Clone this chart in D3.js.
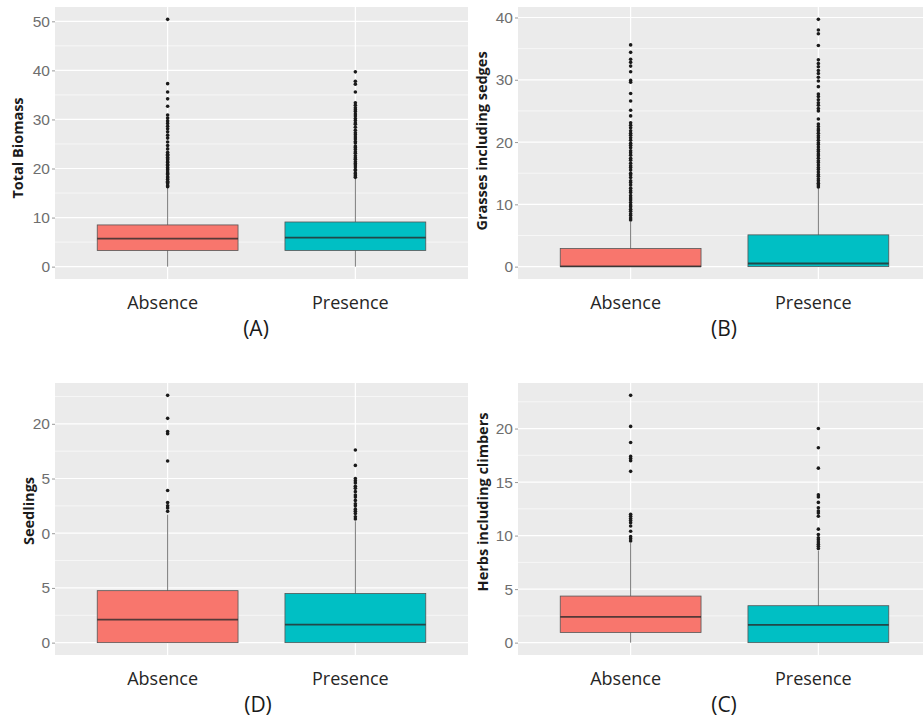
<!DOCTYPE html>
<html>
<head>
<meta charset="utf-8">
<script src="https://cdn.jsdelivr.net/npm/d3@7"></script>
<style>
  body { margin: 0; background: #fff; }
  svg { display: block; }
</style>
</head>
<body>
<div id="chart"></div>
<script>
var groups = ["Absence", "Presence"];
var groupColors = ["#F8766D", "#00BFC4"];

// box stats per group: [lower whisker, Q1, median, Q3, upper whisker]
var biomassBoxes = [[0, 3.3, 5.7, 8.5, 16.1], [0, 3.3, 5.9, 9.1, 18.0]];
var biomassOutAbsence = [16.3, 16.5, 16.9, 17.2, 17.4, 17.8, 18.1, 18.3, 18.8, 19.0, 19.3, 19.7, 19.9, 20.2, 20.6, 20.8, 21.2, 21.4, 21.8, 22.0, 22.3, 22.7, 22.9, 23.3, 24.0, 24.7, 25.4, 26.2, 26.8, 27.5, 28.1, 28.6, 29.2, 29.7, 30.3, 30.9, 32.7, 34.2, 35.6, 37.3, 50.4];
var biomassOutPresence = [18.2, 18.5, 18.9, 19.1, 19.6, 19.8, 20.3, 20.7, 21.0, 21.4, 21.9, 22.2, 22.6, 23.1, 23.4, 23.9, 24.3, 24.6, 25.2, 25.5, 26.0, 26.4, 26.9, 27.3, 27.8, 28.4, 29.0, 29.3, 29.8, 30.2, 30.7, 31.1, 31.6, 32.0, 32.4, 32.9, 33.4, 35.6, 37.2, 37.8, 39.7];
var biomassTicks = [0, 10, 20, 30, 40, 50];
var biomassTickLabels = ["0", "10", "20", "30", "40", "50"];

var grassBoxes = [[0, 0, 0.05, 2.9, 7.2], [0, 0, 0.5, 5.1, 12.6]];
var grassOutAbsence = [7.5, 7.8, 8.2, 8.5, 8.9, 9.2, 9.6, 9.9, 10.3, 10.7, 11.0, 11.4, 11.9, 12.2, 12.6, 13.1, 13.5, 13.8, 14.3, 14.7, 15.0, 15.5, 15.9, 16.2, 16.6, 17.1, 17.4, 17.9, 18.3, 18.6, 19.1, 19.5, 19.8, 20.3, 20.7, 21.1, 21.4, 21.8, 22.3, 22.7, 23.1, 24.2, 25.1, 26.6, 27.8, 29.6, 29.9, 31.3, 32.2, 32.8, 33.3, 34.4, 35.6];
var grassOutPresence = [12.8, 13.1, 13.4, 13.8, 14.1, 14.5, 14.8, 15.2, 15.6, 15.9, 16.3, 16.7, 17.0, 17.4, 17.8, 18.1, 18.5, 18.8, 19.2, 19.6, 19.9, 20.3, 20.7, 21.0, 21.4, 21.8, 22.1, 22.5, 22.9, 23.7, 25.0, 25.4, 25.9, 26.3, 26.8, 27.3, 27.7, 28.9, 29.8, 30.4, 31.0, 31.5, 32.1, 32.6, 33.2, 35.5, 37.4, 38.0, 39.7];
var grassTicks = [0, 10, 20, 30, 40];
var grassTickLabels = ["0", "10", "20", "30", "40"];

var seedBoxes = [[0, 0, 2.1, 4.75, 11.7], [0, 0, 1.65, 4.5, 11.1]];
var seedOutAbsence = [12.0, 12.3, 12.5, 12.8, 13.9, 16.6, 19.1, 19.3, 20.5, 22.6];
var seedOutPresence = [11.3, 11.5, 11.8, 12.0, 12.2, 12.5, 12.7, 13.0, 13.3, 13.5, 13.8, 14.1, 14.3, 14.6, 14.8, 15.0, 16.2, 17.6];
var seedTicks = [0, 5, 10, 15, 20];
var seedTickLabels = ["0", "5", "0", "5", "20"];

var herbBoxes = [[0, 0.95, 2.4, 4.35, 9.3], [0, 0, 1.65, 3.45, 8.6]];
var herbOutAbsence = [9.5, 9.7, 9.9, 10.4, 10.9, 11.2, 11.4, 11.6, 11.8, 12.0, 16.0, 17.0, 17.2, 17.4, 18.7, 20.2, 23.1];
var herbOutPresence = [8.8, 9.0, 9.2, 9.4, 9.6, 9.8, 10.1, 10.6, 11.8, 12.1, 12.3, 12.6, 13.1, 13.6, 13.8, 16.3, 18.2, 20.0];
var herbTicks = [0, 5, 10, 15, 20];
var herbTickLabels = ["0", "5", "10", "15", "20"];

var width = 923, height = 722;
var panelW = 413, panelH = 272;

// where each sub-figure sits on the page
var panels = [
  { tag: "(A)", title: "Total Biomass", boxes: biomassBoxes, outliers: [biomassOutAbsence, biomassOutPresence],
    ticks: biomassTicks, labels: biomassTickLabels, x: 55, y: 7, titleX: 17, titleY: 148, tagX: 256 },
  { tag: "(B)", title: "Grasses including sedges", boxes: grassBoxes, outliers: [grassOutAbsence, grassOutPresence],
    ticks: grassTicks, labels: grassTickLabels, x: 518, y: 7, titleX: 481, titleY: 141, tagX: 724 },
  { tag: "(D)", title: "Seedlings", boxes: seedBoxes, outliers: [seedOutAbsence, seedOutPresence],
    ticks: seedTicks, labels: seedTickLabels, x: 55, y: 383, titleX: 28, titleY: 511, tagX: 258 },
  { tag: "(C)", title: "Herbs including climbers", boxes: herbBoxes, outliers: [herbOutAbsence, herbOutPresence],
    ticks: herbTicks, labels: herbTickLabels, x: 518, y: 383, titleX: 482, titleY: 502, tagX: 724 }
];

var svg = d3.select("#chart").append("svg")
  .attr("width", width)
  .attr("height", height);

panels.forEach(function(p) {
  var g = svg.append("g").attr("transform", "translate(" + p.x + "," + p.y + ")");

  // y range with the usual 5% expansion
  var maxV = d3.max(p.outliers, function(o) { return d3.max(o); });
  var pad = maxV * 0.05;
  var y = d3.scaleLinear()
    .domain([-pad, maxV + pad])
    .range([panelH, 0]);

  var x = d3.scalePoint()
    .domain(groups)
    .range([0, panelW])
    .padding(0.6);
  var boxW = x.step() * 0.75;

  // grey panel
  g.append("rect")
    .attr("width", panelW)
    .attr("height", panelH)
    .attr("fill", "#ebebeb");

  // minor grid halfway between major ticks
  var step = p.ticks[1] - p.ticks[0];
  var minor = p.ticks.map(function(t) { return t + step / 2; })
    .filter(function(v) { return v < maxV + pad; });
  g.selectAll(".minor").data(minor).enter().append("line")
    .attr("x1", 0).attr("x2", panelW)
    .attr("y1", function(d) { return y(d); })
    .attr("y2", function(d) { return y(d); })
    .attr("stroke", "#fff")
    .attr("stroke-width", 0.6);

  g.selectAll(".major").data(p.ticks).enter().append("line")
    .attr("x1", 0).attr("x2", panelW)
    .attr("y1", function(d) { return y(d); })
    .attr("y2", function(d) { return y(d); })
    .attr("stroke", "#fff")
    .attr("stroke-width", 1.2);

  g.selectAll(".vgrid").data(groups).enter().append("line")
    .attr("x1", function(d) { return x(d); })
    .attr("x2", function(d) { return x(d); })
    .attr("y1", 0).attr("y2", panelH)
    .attr("stroke", "#fff")
    .attr("stroke-width", 1.2);

  // y axis
  var yAxis = g.append("g")
    .call(d3.axisLeft(y)
      .tickValues(p.ticks)
      .tickFormat(function(d, i) { return p.labels[i]; })
      .tickSize(3)
      .tickPadding(2));
  yAxis.select(".domain").remove();
  yAxis.selectAll(".tick line").attr("stroke", "#999");
  yAxis.selectAll("text")
    .attr("fill", "#6e6e6e")
    .style("font-family", "'Liberation Sans', Arial, sans-serif")
    .style("font-size", "15.5px");

  // boxes
  groups.forEach(function(gr, i) {
    var b = p.boxes[i];
    var cx = x(gr);

    g.append("line")
      .attr("x1", cx).attr("x2", cx)
      .attr("y1", y(b[0])).attr("y2", y(b[4]))
      .attr("stroke", "#777")
      .attr("stroke-width", 1);

    g.append("rect")
      .attr("x", cx - boxW / 2)
      .attr("y", y(b[3]))
      .attr("width", boxW)
      .attr("height", Math.max(y(b[1]) - y(b[3]), 0))
      .attr("fill", groupColors[i])
      .attr("stroke", "#555")
      .attr("stroke-width", 0.8);

    g.append("line")
      .attr("x1", cx - boxW / 2).attr("x2", cx + boxW / 2)
      .attr("y1", y(b[2])).attr("y2", y(b[2]))
      .attr("stroke", "#2a2a2a")
      .attr("stroke-opacity", 0.8)
      .attr("stroke-width", 1.8);

    g.selectAll(".out" + i).data(p.outliers[i]).enter().append("circle")
      .attr("cx", cx)
      .attr("cy", function(d) { return y(d); })
      .attr("r", 1.8)
      .attr("fill", "#1a1a1a");
  });

  // category labels under the panel
  g.selectAll(".cat").data(groups).enter().append("text")
    .attr("x", function(d) { return x(d) - 5; })
    .attr("y", panelH + 30)
    .attr("text-anchor", "middle")
    .style("font-family", "'Open Sans', sans-serif")
    .style("font-size", "18px")
    .attr("fill", "#262626")
    .text(function(d) { return d; });

  // y title
  svg.append("text")
    .attr("transform", "translate(" + p.titleX + "," + p.titleY + ") rotate(-90)")
    .attr("text-anchor", "middle")
    .attr("dominant-baseline", "central")
    .style("font-family", "'Open Sans', sans-serif")
    .style("font-weight", "bold")
    .style("font-size", "14.5px")
    .attr("fill", "#1a1a1a")
    .text(p.title);

  // panel tag
  svg.append("text")
    .attr("x", p.tagX)
    .attr("y", p.y + panelH + 57)
    .attr("text-anchor", "middle")
    .style("font-family", "'Open Sans', sans-serif")
    .style("font-size", "21px")
    .attr("fill", "#1a1a1a")
    .text(p.tag);
});
</script>
</body>
</html>
